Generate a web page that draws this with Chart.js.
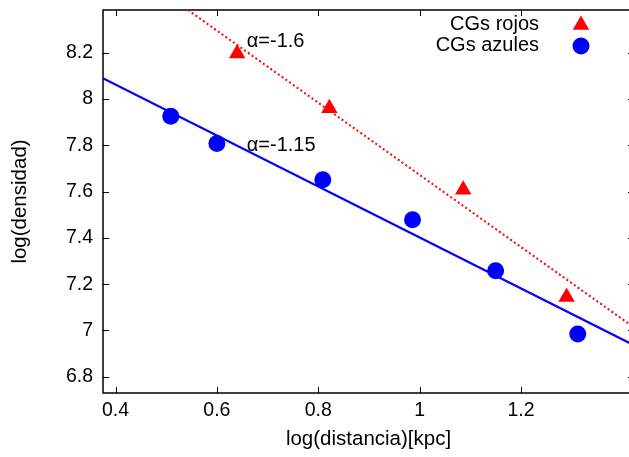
<!DOCTYPE html>
<html>
<head>
<meta charset="utf-8">
<script src="https://cdn.jsdelivr.net/npm/chart.js@4.4.1/dist/chart.umd.min.js"></script>
<style>
  html, body { margin: 0; padding: 0; background: #fff; overflow: hidden; }
</style>
</head>
<body>
<canvas id="densityChart" width="636" height="457"></canvas>
<script>
// ============================================================
// DATA
// ============================================================

// blue clusters: log(distance) and log(density)
const blueX = [0.509, 0.600, 0.809, 0.986, 1.150, 1.312];
const blueY = [7.925, 7.807, 7.651, 7.478, 7.258, 6.985];

// red clusters
const redX = [0.640, 0.822, 1.086, 1.290];
const redY = [8.196, 7.960, 7.608, 7.145];

// fitted lines (end points as seen in the picture)
const blueFitX = [0.375, 1.423];
const blueFitY = [8.089, 6.936];
const redFitX = [0.543, 1.423];
const redFitY = [8.384, 7.013];

// slope labels
const slopeText = ['α=-1.6', 'α=-1.15'];
const slopeX = [0.659, 0.659];
const slopeY = [8.246, 7.799];

// axes
const xTicks = [0.4, 0.6, 0.8, 1, 1.2];
const yTicks = [6.8, 7, 7.2, 7.4, 7.6, 7.8, 8, 8.2];
const xRange = [0.3753, 1.423];
const yRange = [6.730, 8.384];

const FONT = "'Liberation Sans', Arial, sans-serif";
const RED = '#ff0000';
const BLUE = '#0000ff';

function toPoints(xs, ys) {
  return xs.map(function(x, i) { return { x: x, y: ys[i] }; });
}

// keep the plot frame exactly where the reference has it
function noScalePadding(scale) {
  scale.paddingTop = 0;
  scale.paddingBottom = 0;
  scale.paddingLeft = 0;
  scale.paddingRight = 0;
}

// ============================================================
// PLUGINS: gnuplot-like frame with inward ticks, legend, labels
// ============================================================
const framePlugin = {
  id: 'frame',
  beforeDatasetsDraw(chart) {
    const ctx = chart.ctx;
    const a = chart.chartArea;
    const xs = chart.scales.x, ys = chart.scales.y;
    ctx.save();
    ctx.strokeStyle = '#000';
    ctx.lineWidth = 1;
    xs.ticks.forEach(function(t) {
      const px = Math.round(xs.getPixelForValue(t.value)) + 0.5;
      ctx.beginPath();
      ctx.moveTo(px, a.bottom); ctx.lineTo(px, a.bottom - 6);
      ctx.moveTo(px, a.top); ctx.lineTo(px, a.top + 6);
      ctx.stroke();
    });
    ys.ticks.forEach(function(t) {
      const py = Math.round(ys.getPixelForValue(t.value)) + 0.5;
      ctx.beginPath();
      ctx.moveTo(a.left, py); ctx.lineTo(a.left + 6, py);
      ctx.moveTo(a.right, py); ctx.lineTo(a.right - 6, py);
      ctx.stroke();
    });
    ctx.lineWidth = 1.5;
    ctx.strokeRect(a.left, a.top, a.right - a.left, a.bottom - a.top);
    ctx.restore();
  },
  afterDraw(chart) {
    const ctx = chart.ctx;
    const xs = chart.scales.x, ys = chart.scales.y;
    ctx.save();
    ctx.font = '20px ' + FONT;
    ctx.fillStyle = '#000';
    ctx.textBaseline = 'middle';

    // slope labels, placed through the scales
    ctx.textAlign = 'left';
    slopeText.forEach(function(txt, i) {
      ctx.fillText(txt, xs.getPixelForValue(slopeX[i]), ys.getPixelForValue(slopeY[i]));
    });

    // legend (text right-aligned, symbol to the right)
    const entries = [chart.data.datasets[0], chart.data.datasets[1]];
    const rowsY = [25, 46];
    entries.forEach(function(ds, i) {
      ctx.fillStyle = '#000';
      ctx.textAlign = 'right';
      ctx.fillText(ds.label, 539, rowsY[i] - 1);
      ctx.fillStyle = ds.backgroundColor;
      ctx.strokeStyle = ds.backgroundColor;
      Chart.helpers.drawPoint(ctx, { pointStyle: ds.pointStyle, radius: ds.pointRadius, rotation: 0, borderWidth: 0 }, 581, rowsY[i]);
    });
    ctx.restore();
  }
};

// ============================================================
// CHART
// ============================================================
const ctx = document.getElementById('densityChart').getContext('2d');

const densityChart = new Chart(ctx, {
  type: 'scatter',
  data: {
    datasets: [
      {
        label: 'CGs rojos',
        data: toPoints(redX, redY),
        pointStyle: 'triangle',
        pointRadius: 9.5,
        backgroundColor: RED,
        borderColor: RED,
        borderWidth: 0
      },
      {
        label: 'CGs azules',
        data: toPoints(blueX, blueY),
        pointStyle: 'circle',
        pointRadius: 8.5,
        backgroundColor: BLUE,
        borderColor: BLUE,
        borderWidth: 0
      },
      {
        label: 'ajuste rojo',
        type: 'line',
        data: toPoints(redFitX, redFitY),
        borderColor: RED,
        borderWidth: 2,
        borderDash: [2, 2.6],
        pointRadius: 0,
        fill: false,
        order: 5
      },
      {
        label: 'ajuste azul',
        type: 'line',
        data: toPoints(blueFitX, blueFitY),
        borderColor: BLUE,
        borderWidth: 2.2,
        pointRadius: 0,
        fill: false,
        order: 5
      }
    ]
  },
  options: {
    responsive: false,
    animation: false,
    // the right frame edge sits just outside the picture, as in the reference
    layout: { autoPadding: false, padding: { top: 10, right: 2, left: 0, bottom: 0 } },
    plugins: {
      legend: { display: false },
      tooltip: { enabled: false }
    },
    scales: {
      x: {
        type: 'linear',
        min: xRange[0],
        max: xRange[1],
        afterBuildTicks: function(scale) { scale.ticks = xTicks.map(function(v) { return { value: v }; }); },
        afterFit: function(scale) { scale.height = 64; noScalePadding(scale); },
        grid: { display: false, drawTicks: false },
        border: { display: false },
        ticks: {
          padding: 6,
          color: '#000',
          font: { family: FONT, size: 19.5 },
          maxRotation: 0,
          callback: function(v) { return String(+Number(v).toFixed(1)); }
        },
        title: {
          display: true,
          text: 'log(distancia)[kpc]',
          color: '#000',
          font: { family: FONT, size: 20.5 },
          padding: { top: 0, bottom: 5 }
        }
      },
      y: {
        type: 'linear',
        min: yRange[0],
        max: yRange[1],
        afterBuildTicks: function(scale) { scale.ticks = yTicks.map(function(v) { return { value: v }; }); },
        afterFit: function(scale) { scale.width = 103; noScalePadding(scale); },
        grid: { display: false, drawTicks: false },
        border: { display: false },
        ticks: {
          padding: 10,
          color: '#000',
          font: { family: FONT, size: 19.5 },
          callback: function(v) { return String(+Number(v).toFixed(1)); }
        },
        title: {
          display: true,
          text: 'log(densidad)',
          color: '#000',
          font: { family: FONT, size: 20.5 },
          padding: { top: 8, bottom: 0 }
        }
      }
    }
  },
  plugins: [framePlugin]
});
</script>
</body>
</html>
